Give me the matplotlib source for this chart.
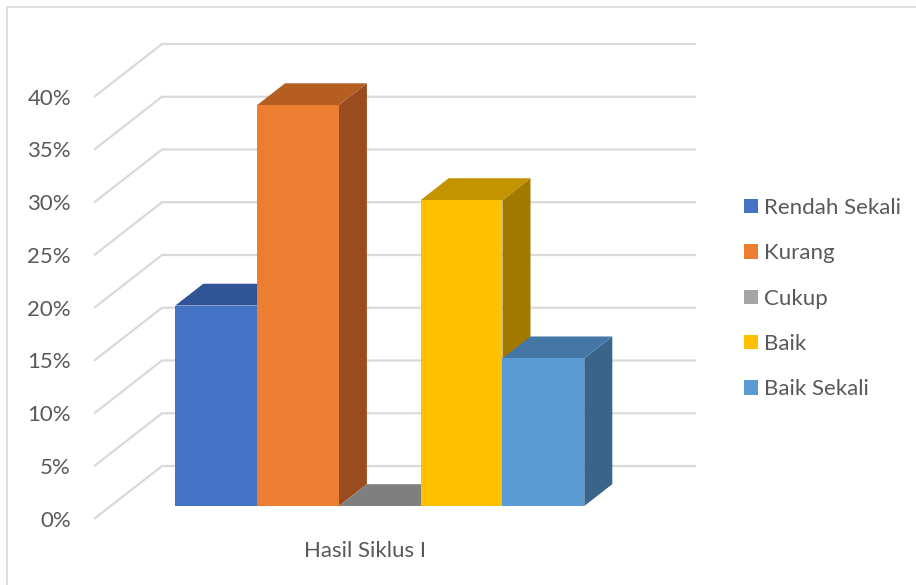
import numpy as np
import matplotlib.pyplot as plt
from matplotlib.patches import Polygon, Patch, Rectangle

plt.rcParams['font.family'] = ['Lato', 'DejaVu Sans']

# data
categories = ['Rendah Sekali', 'Kurang', 'Cukup', 'Baik', 'Baik Sekali']
values = [19, 38, 0, 29, 14]          # percent
group_label = 'Hasil Siklus I'
yticks = np.arange(0, 41, 5)

front_cols = ['#4472C4', '#ED7D31', '#A5A5A5', '#FFC000', '#5B9BD5']
top_cols = ['#2F5597', '#B55E22', '#7F7F7F', '#C49300', '#4577A6']
side_cols = ['#2F4F87', '#9A4C1E', '#6E6E6E', '#A27A00', '#3A6489']

# view geometry (x in bar widths, y in percent)
W, H = 916, 585
px_x, px_y = 81.8, 10.55      # pixels per unit
ox, oy = 94, 519              # pixel position of front floor corner
DX, DY = 68 / px_x, 53 / px_y  # full depth vector
floor_w = 6.53
bar_x0 = 0.79
d0, d1 = 0.245, 0.657         # bar depth range (fraction of full depth)
fs = 16
txt_c = '#595959'

fig = plt.figure(figsize=(W / 100, H / 100), dpi=100)
ax = fig.add_axes([0, 0, 1, 1])
ax.set_xlim(-ox / px_x, (W - ox) / px_x)
ax.set_ylim(-(H - oy) / px_y, oy / px_y)
ax.axis('off')

grid_c = '#D9D9D9'
for v in yticks:
    ax.plot([0, DX, DX + floor_w], [v, v + DY, v + DY], color=grid_c, lw=1.6,
            solid_capstyle='butt', zorder=1)
    ax.text(-23 / px_x, v - 0.15, f'{v}%', ha='right', va='center',
            fontsize=fs, color=txt_c)

def P(x, y, d):
    return (x + d * DX, y + d * DY)

for i, (v, fc, tc, sc) in enumerate(zip(values, front_cols, top_cols, side_cols)):
    x0, x1 = bar_x0 + i, bar_x0 + i + 1
    side = [P(x1, 0, d0), P(x1, 0, d1), P(x1, v, d1), P(x1, v, d0)]
    top = [P(x0, v, d0), P(x1, v, d0), P(x1, v, d1), P(x0, v, d1)]
    front = [P(x0, 0, d0), P(x1, 0, d0), P(x1, v, d0), P(x0, v, d0)]
    if v > 0:
        ax.add_patch(Polygon(side, closed=True, fc=sc, ec='none', zorder=2))
    ax.add_patch(Polygon(top, closed=True, fc=tc, ec='none', zorder=2))
    if v > 0:
        ax.add_patch(Polygon(front, closed=True, fc=fc, ec='none', zorder=2))

cx = floor_w / 2 + 0.05
ax.text(cx, -3.0, group_label, ha='center', va='center', fontsize=fs,
        color=txt_c)

handles = [Patch(fc=c, ec='none') for c in front_cols]
leg = ax.legend(handles, categories, loc='upper left',
                bbox_to_anchor=(744 / W, 1 - 198 / H), frameon=False,
                fontsize=fs, labelcolor=txt_c, handlelength=0.63,
                handleheight=0.63, handletextpad=0.28, labelspacing=1.14,
                borderpad=0, borderaxespad=0)

# chart border (only the left and top edges fall inside the image)
fig.patches.append(Rectangle((7 / W, -0.1), 1.1, 1 - 7 / H + 0.1,
                             transform=fig.transFigure, fill=False,
                             ec='#D9D9D9', lw=1.2))

fig.savefig('out.png', dpi=100)
